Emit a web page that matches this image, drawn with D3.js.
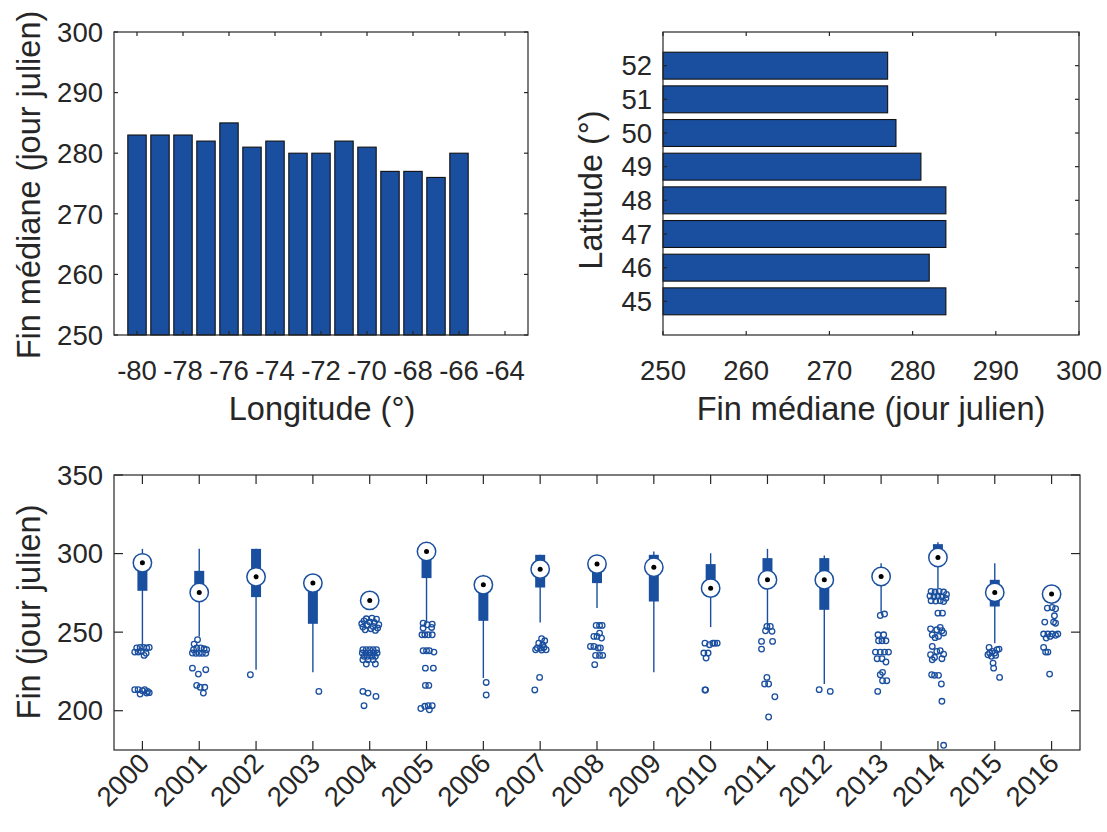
<!DOCTYPE html>
<html>
<head>
<meta charset="utf-8">
<script src="https://cdn.jsdelivr.net/npm/d3@7"></script>
<style>
  html, body { margin: 0; padding: 0; background: #fff; }
  svg { display: block; font-family: "Liberation Sans", Arial, Helvetica, sans-serif; }
  .axis-line { fill: none; stroke: #262626; stroke-width: 1.2; }
  .tick-label { fill: #262626; font-size: 27.5px; }
  .axis-title { fill: #262626; font-size: 32.5px; }
</style>
</head>
<body>
<svg id="fig" width="1107" height="832"></svg>
<script>
// ---------- Median end date by longitude ----------
const longitudes = [-80, -79, -78, -77, -76, -75, -74, -73, -72, -71, -70, -69, -68, -67, -66];
const finByLongitude = [283, 283, 283, 282, 285, 281, 282, 280, 280, 282, 281, 277, 277, 276, 280];
const longitudeTicks = [-80, -78, -76, -74, -72, -70, -68, -66, -64];

// ---------- Median end date by latitude ----------
const latitudes = [45, 46, 47, 48, 49, 50, 51, 52];
const finByLatitude = [284, 282, 284, 284, 281, 278, 277, 277];
const finTicks = [250, 260, 270, 280, 290, 300];

// ---------- Yearly distribution of end dates ----------
const years = [2000, 2001, 2002, 2003, 2004, 2005, 2006, 2007, 2008, 2009, 2010, 2011, 2012, 2013, 2014, 2015, 2016];
const medians  = [294.1, 275.2, 285.2, 281.2, 270.2, 301.3, 280.1, 290.1, 293.3, 291.3, 278.0, 283.3, 283.3, 285.4, 297.5, 275.3, 274.2];
const q1       = [276.3, 272.0, 272.3, 255.3, 267.0, 284.4, 257.2, 278.4, 281.2, 269.5, 275.0, 278.0, 264.2, 279.8, 293.0, 266.3, 271.0];
const q3       = [297.0, 289.0, 303.0, 285.0, 273.0, 303.0, 284.0, 299.2, 297.0, 299.2, 293.3, 297.1, 297.1, 289.0, 306.0, 283.3, 277.0];
const whiskLow = [241.0, 247.3, 226.1, 224.4, 265.0, 255.7, 220.8, 256.2, 265.3, 224.4, 253.2, 251.5, 217.0, 262.1, 278.0, 243.0, 268.0];
const whiskHigh= [303.0, 303.0, 303.0, 285.0, 274.0, 303.5, 286.5, 299.2, 297.5, 301.3, 300.2, 303.0, 298.8, 293.9, 307.2, 293.9, 278.0];
const yearTicks = [200, 250, 300, 350];

// Outliers per year: [value, horizontal jitter in category units]
const outliers = [
  // 2000
  [[237.3,-0.135],[239.9,-0.10],[240.3,-0.04],[240.3,0.02],[239.9,0.075],[240.3,0.12],[237.3,-0.075],[237.7,-0.02],[235.2,0.03],[236.5,0.065],
   [213.4,-0.135],[213.4,-0.075],[210.6,-0.04],[212.7,0],[213.4,0.04],[211.2,0.075],[211.5,0.12],[212.3,0.09]],
  // 2001
  [[245.2,-0.03],[242.4,-0.09],[239.9,-0.045],[239.9,0.026],[239.4,0.085],[238.8,0.13],[238.8,-0.10],[236.7,-0.12],[236.5,-0.06],[236.5,0],
   [236.5,0.055],[236.5,0.115],[227.1,-0.12],[223.3,-0.015],[226.1,0.115],[216.1,-0.045],[214.9,0.015],[214.9,0.097],[211.2,0.073]],
  // 2002
  [[222.9,-0.10]],
  // 2003
  [[212.3,0.105]],
  // 2004
  [[258.5,-0.06],[258.9,0.04],[258.3,0.12],[257.2,-0.1],[256.5,0.0],[256.1,0.08],[255.3,-0.14],[254.7,0.16],[254.3,-0.04],[253.6,0.06],
   [253.2,-0.12],[252.6,0.14],[252.2,0.02],[251.5,-0.08],[251.1,0.1],
   [238.8,-0.12],[238.8,-0.06],[238.8,0],[238.8,0.06],[238.8,0.12],[236.7,-0.13],[236.7,-0.07],[236.7,0],[236.7,0.07],[236.7,0.13],
   [234.6,-0.1],[234.6,-0.04],[234.6,0.04],[234.6,0.1],[232.4,-0.12],[232.4,-0.03],[232.4,0.06],[229.7,-0.06],[229.7,0.1],
   [212.3,-0.12],[211.2,-0.03],[209.1,0.11],[203.2,-0.1]],
  // 2005
  [[255.7,-0.06],[254.7,0.01],[255.1,0.1],[253.0,0.09],[252.6,-0.06],[248.3,-0.08],[248.3,-0.03],[248.3,0.03],[248.3,0.1],
   [238.2,-0.06],[238.2,0],[238.2,0.05],[237.3,0.13],[227.1,-0.02],[227.1,0.12],[216.1,-0.02],[216.1,0.04],
   [201.4,-0.1],[202.8,-0.03],[203.2,0.03],[203.2,0.1],[200.6,0.05]],
  // 2006
  [[218.0,0.05],[210.0,0.05]],
  // 2007
  [[245.8,0.025],[244.5,0.08],[243.0,-0.025],[242.0,0.045],[239.9,-0.05],[239.9,0.005],[238.8,0.105],[240.3,0.065],[238.8,-0.08],[238.6,0.025],
   [221.2,-0.01],[213.2,-0.095]],
  // 2008
  [[254.3,-0.015],[254.3,0.045],[254.3,0.09],[249.4,0.045],[247.3,-0.055],[247.3,0],[246.2,0.08],[240.9,-0.115],[240.9,-0.055],[239.9,0.02],
   [239.9,0.06],[235.2,-0.025],[235.2,0.045],[235.2,0.1],[229.3,-0.04]],
  // 2009
  [],
  // 2010
  [[243.0,-0.10],[242.0,-0.02],[243.0,0.04],[243.0,0.115],[243.0,0.07],[236.7,-0.12],[236.7,-0.045],[233.5,-0.08],[213.2,-0.10],[213.2,-0.09]],
  // 2011
  [[253.6,-0.01],[253.6,0.05],[250.9,-0.035],[250.5,0.08],[244.1,-0.105],[244.1,0.09],[239.2,-0.105],[221.2,-0.01],[217.0,-0.05],[217.0,0.02],
   [208.9,0.13],[196.0,0.02]],
  // 2012
  [[213.4,-0.09],[212.3,0.105]],
  // 2013
  [[260.6,-0.015],[261.5,0.06],[248.3,-0.055],[248.3,0.045],[244.5,-0.045],[244.5,0.015],[244.5,0.085],[237.3,-0.1],[237.3,-0.015],[237.3,0.06],
   [237.3,0.13],[233.1,-0.07],[233.1,0.015],[231.0,0.085],[224.4,0.025],[222.9,-0.015],[219.1,0.025],[219.1,0.1],[212.3,-0.06]],
  // 2014
  [[275.9,-0.12],[275.5,-0.05],[275.9,0.02],[275.5,0.1],[274.0,0.15],[273.0,-0.14],[272.5,-0.07],[273.0,0.0],[272.5,0.07],[271.5,0.14],
   [270.0,-0.12],[269.8,-0.04],[270.0,0.04],[269.5,0.1],[262.1,0],[262.1,0.08],
   [252.1,-0.13],[251.5,-0.02],[253.0,0.04],[250.9,0.07],[248.3,-0.1],[247.3,0.01],[249.5,0.1],[246.5,-0.05],
   [240.9,-0.1],[237.7,-0.02],[238.2,0.04],[236.0,0.1],[235.6,-0.13],[233.9,-0.06],[233.1,0.07],[232.4,-0.1],
   [222.9,-0.11],[222.5,-0.06],[222.5,0.01],[217.0,0.06],[206.0,0.07],[178.0,0.1]],
  // 2015
  [[240.3,-0.1],[239.2,0.075],[237.7,-0.045],[235.6,-0.12],[234.6,-0.06],[235.2,0.015],[236.7,-0.09],[236.7,0],[238.8,0.04],[230.3,-0.03],
   [227.1,-0.02],[221.2,0.085]],
  // 2016
  [[265.3,-0.075],[265.7,0.01],[264.9,0.07],[260.4,0.05],[256.4,0.035],[255.7,0.07],[256.4,-0.12],[248.8,-0.14],[248.8,-0.065],[248.8,0.01],
   [248.8,0.11],[246.2,-0.095],[247.3,-0.025],[248.0,0.07],[240.3,-0.14],[237.3,-0.105],[237.3,-0.065],[223.3,-0.035]]
];

const BLUE = "#1a4f9f";
const svg = d3.select("#fig");

// Draws a boxed axes frame with inward ticks on all four sides
function frame(g, x, y, xTicks, yTicks, tickLen, xFmt, yFmt, xRotate) {
  const [x0, x1] = x.range();
  const [y0, y1] = y.range(); // y0 = bottom, y1 = top
  const ax = g.append("g");
  ax.append("rect").attr("class", "axis-line")
    .attr("x", x0).attr("y", y1).attr("width", x1 - x0).attr("height", y0 - y1);
  xTicks.forEach(t => {
    const px = x(t);
    ax.append("line").attr("class", "axis-line").attr("x1", px).attr("x2", px).attr("y1", y0).attr("y2", y0 - tickLen);
    ax.append("line").attr("class", "axis-line").attr("x1", px).attr("x2", px).attr("y1", y1).attr("y2", y1 + tickLen);
    if (xRotate) {
      ax.append("text").attr("class", "tick-label").attr("text-anchor", "end")
        .attr("transform", `translate(${px + 9},${y0 + 15}) rotate(-45)`)
        .text(xFmt(t));
    } else {
      ax.append("text").attr("class", "tick-label").attr("text-anchor", "middle")
        .attr("x", px).attr("y", y0 + 45).text(xFmt(t));
    }
  });
  yTicks.forEach(t => {
    const py = y(t);
    ax.append("line").attr("class", "axis-line").attr("x1", x0).attr("x2", x0 + tickLen).attr("y1", py).attr("y2", py);
    ax.append("line").attr("class", "axis-line").attr("x1", x1).attr("x2", x1 - tickLen).attr("y1", py).attr("y2", py);
    ax.append("text").attr("class", "tick-label").attr("text-anchor", "end")
      .attr("x", x0 - 11).attr("y", py + 9.7).text(yFmt(t));
  });
}

function yTitle(txt, x, yc) {
  svg.append("text").attr("class", "axis-title").attr("text-anchor", "middle")
    .attr("transform", `translate(${x},${yc}) rotate(-90)`).text(txt);
}
function xTitle(txt, xc, y) {
  svg.append("text").attr("class", "axis-title").attr("text-anchor", "middle")
    .attr("x", xc).attr("y", y).text(txt);
}

// ---------- Panel 1: vertical bars by longitude ----------
{
  const x = d3.scaleLinear().domain([-81, -63]).range([114, 528]);
  const y = d3.scaleLinear().domain([250, 300]).range([335, 32]);
  const g = svg.append("g");
  const w = x(-80 + 0.4) - x(-80 - 0.4);
  g.selectAll("rect.bar").data(longitudes).join("rect").attr("class", "bar")
    .attr("x", d => x(d) - w / 2).attr("width", w)
    .attr("y", (d, i) => y(finByLongitude[i]))
    .attr("height", (d, i) => y(250) - y(finByLongitude[i]))
    .attr("fill", BLUE).attr("stroke", "#111").attr("stroke-width", 1.1);
  frame(g, x, y, longitudeTicks, finTicks, 4, d => d3.format("d")(d).replace("−", "-"), d3.format("d"), false);
  xTitle("Longitude (°)", 322, 420);
  yTitle("Fin médiane (jour julien)", 40, 185);
}

// ---------- Panel 2: horizontal bars by latitude ----------
{
  const x = d3.scaleLinear().domain([250, 300]).range([663, 1079]);
  const y = d3.scaleLinear().domain([44, 53]).range([335, 32]);
  const g = svg.append("g");
  const h = y(45 - 0.4) - y(45 + 0.4);
  g.selectAll("rect.bar").data(latitudes).join("rect").attr("class", "bar")
    .attr("y", d => y(d) - h / 2).attr("height", h)
    .attr("x", x(250))
    .attr("width", (d, i) => x(finByLatitude[i]) - x(250))
    .attr("fill", BLUE).attr("stroke", "#111").attr("stroke-width", 1.1);
  frame(g, x, y, finTicks, latitudes, 4, d3.format("d"), d3.format("d"), false);
  xTitle("Fin médiane (jour julien)", 871, 420);
  yTitle("Latitude (°)", 602, 190);
}

// ---------- Panel 3: compact box plots by year ----------
{
  const x = d3.scaleLinear().domain([0.5, years.length + 0.5]).range([114, 1080]);
  const y = d3.scaleLinear().domain([175, 350]).range([750, 475]);
  const g = svg.append("g");
  const idx = d3.range(years.length);

  // whiskers
  g.selectAll("line.whisker").data(idx).join("line").attr("class", "whisker")
    .attr("x1", i => x(i + 1)).attr("x2", i => x(i + 1))
    .attr("y1", i => y(whiskLow[i])).attr("y2", i => y(whiskHigh[i]))
    .attr("stroke", BLUE).attr("stroke-width", 1.4);
  // interquartile boxes
  const bw = 10;
  g.selectAll("rect.iqr").data(idx).join("rect").attr("class", "iqr")
    .attr("x", i => x(i + 1) - bw / 2).attr("width", bw)
    .attr("y", i => y(q3[i])).attr("height", i => y(q1[i]) - y(q3[i]))
    .attr("fill", BLUE);
  // median markers
  g.selectAll("circle.med").data(idx).join("circle").attr("class", "med")
    .attr("cx", i => x(i + 1)).attr("cy", i => y(medians[i])).attr("r", 9.2)
    .attr("fill", "#fff").attr("stroke", BLUE).attr("stroke-width", 1.5);
  g.selectAll("circle.meddot").data(idx).join("circle").attr("class", "meddot")
    .attr("cx", i => x(i + 1)).attr("cy", i => y(medians[i])).attr("r", 2.5)
    .attr("fill", "#000");
  // outliers
  const pts = [];
  outliers.forEach((list, i) => list.forEach(([v, dx]) => pts.push({ i, v, dx })));
  g.selectAll("circle.out").data(pts).join("circle").attr("class", "out")
    .attr("cx", d => x(d.i + 1 + d.dx)).attr("cy", d => y(d.v)).attr("r", 2.8)
    .attr("fill", "none").attr("stroke", BLUE).attr("stroke-width", 1.3);

  frame(g, x, y, idx.map(i => i + 1), yearTicks, 9, i => String(years[i - 1]), d3.format("d"), true);
  yTitle("Fin (jour julien)", 40, 612);
}
</script>
</body>
</html>
